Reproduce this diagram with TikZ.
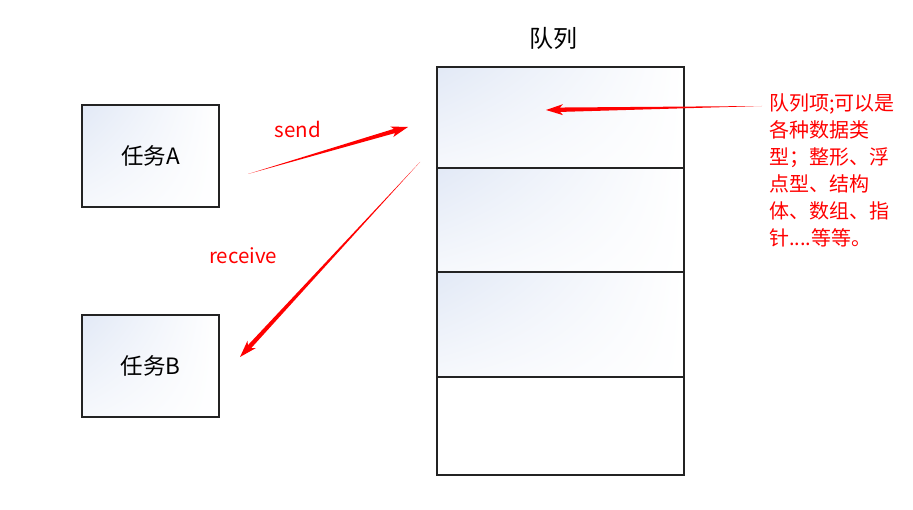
\documentclass[tikz,border=0pt]{standalone}
\usepackage{fontspec}
\setmainfont{Noto Sans CJK SC}
\usetikzlibrary{calc,shadings}
\definecolor{tintblue}{RGB}{226,233,246}
\definecolor{arrowred}{RGB}{255,0,0}
\definecolor{edgegray}{RGB}{35,35,35}
\tikzset{
  shadedbox/.style={draw=edgegray, line width=1.4pt, inner sep=0pt,
    upper left=tintblue, upper right=white, lower left=tintblue!30, lower right=white},
  plainbox/.style={draw=edgegray, line width=1.4pt, inner sep=0pt, fill=white},
  taskbox/.style={shadedbox, minimum width=137pt, minimum height=102pt,
    font=\fontsize{22.5}{26}\selectfont},
  cellbox/.style={minimum width=247pt},
  redlbl/.style={text=arrowred, inner sep=0pt, font=\fontsize{20.5}{24}\selectfont},
  titlelbl/.style={inner sep=0pt, font=\fontsize{24}{28}\selectfont},
}
\newcommand{\taperarrow}[2]{%
  \coordinate (#1h) at ($(#2)!14pt!(#1)$);
  \coordinate (#1w) at ($(#2)!17pt!(#1)$);
  \fill[arrowred] (#1) -- ($(#1h)!2.2pt!90:(#2)$) -- ($(#1w)!5.5pt!90:(#2)$) -- (#2)
    -- ($(#1w)!5.5pt!-90:(#2)$) -- ($(#1h)!2.2pt!-90:(#2)$) -- cycle;
}
\begin{document}
\begin{tikzpicture}[x=1pt,y=-1pt]
\useasboundingbox (0,0) rectangle (913,510);
% tasks
\node[taskbox] (taskA) at (150.5,156) {任务A};
\node[taskbox] (taskB) at (150.5,366) {任务B};
% queue
\node[shadedbox, cellbox, minimum height=101pt] (q1) at (560.5,117.5) {};
\node[shadedbox, cellbox, minimum height=104pt] (q2) at (560.5,220) {};
\node[shadedbox, cellbox, minimum height=105pt] (q3) at (560.5,324.5) {};
\node[plainbox, cellbox, minimum height=98pt] (q4) at (560.5,426) {};
\node[titlelbl] (title) at (553,38) {队列};
% arrows
\coordinate (sendS) at (248,174);
\coordinate (sendE) at (408,127);
\coordinate (recvS) at (420,162);
\coordinate (recvE) at (240,357);
\coordinate (itemS) at (762,106);
\coordinate (itemE) at (546,110);
\taperarrow{sendS}{sendE}
\taperarrow{recvS}{recvE}
\taperarrow{itemS}{itemE}
\node[redlbl] (sendlbl) at (298,129) {send};
\node[redlbl] (recvlbl) at (243,256) {receive};
\node[redlbl, anchor=north west, align=left, font=\fontsize{20}{27}\selectfont] (itemlbl) at (769,94)
  {队列项;可以是\\各种数据类\\型；整形、浮\\点型、结构\\体、数组、指\\针....等等。};
\end{tikzpicture}
\end{document}
